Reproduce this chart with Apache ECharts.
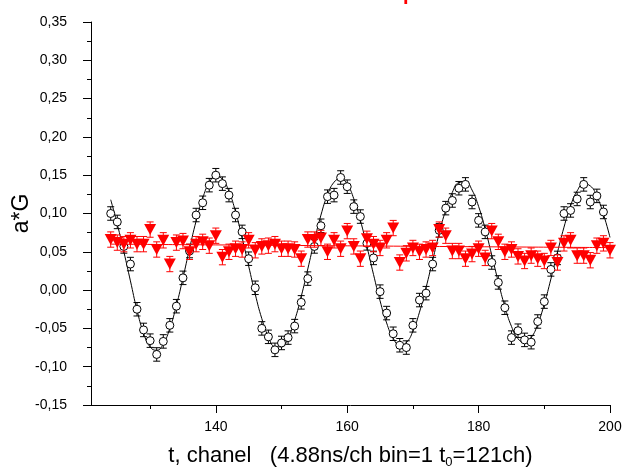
<!DOCTYPE html>
<html>
<head>
<meta charset="utf-8">
<script src="https://cdn.jsdelivr.net/npm/echarts@6/dist/echarts.min.js"></script>
<style>
html,body{margin:0;padding:0;background:#fff;}
#chart{width:624px;height:474px;}
</style>
</head>
<body>
<div id="chart"></div>
<script>
// ---- data ----
const blackChannels = [124,125,126,127,128,129,130,131,132,133,134,135,136,137,138,139,140,141,142,143,144,145,146,147,148,149,150,151,152,153,154,155,156,157,158,159,160,161,162,163,164,165,166,167,168,169,170,171,172,173,174,175,176,177,178,179,180,181,182,183,184,185,186,187,188,189,190,191,192,193,194,195,196,197,198,199];
const blackValues = [0.100,0.089,0.057,0.034,-0.025,-0.052,-0.066,-0.084,-0.067,-0.046,-0.021,0.016,0.051,0.098,0.114,0.137,0.150,0.139,0.124,0.098,0.076,0.041,0.003,-0.050,-0.061,-0.078,-0.069,-0.062,-0.047,-0.016,0.015,0.057,0.084,0.122,0.124,0.147,0.135,0.109,0.096,0.061,0.042,-0.002,-0.030,-0.057,-0.072,-0.075,-0.046,-0.013,-0.004,0.034,0.078,0.107,0.117,0.133,0.138,0.115,0.091,0.076,0.036,0.010,-0.023,-0.062,-0.053,-0.065,-0.068,-0.041,-0.015,0.027,0.042,0.100,0.104,0.119,0.138,0.115,0.123,0.102];
const blackError = 0.0088;

const redChannels = [124,125,126,127,128,129,130,131,132,133,134,135,136,137,138,139,140,141,142,143,144,145,146,147,148,149,150,151,152,153,154,155,156,157,158,159,160,161,162,163,164,165,166,167,168,169,170,171,172,173,174,175,176,177,178,179,180,181,182,183,184,185,186,187,188,189,190,191,192,193,194,195,196,197,198,199,200];
const redValues = [0.066,0.062,0.060,0.065,0.060,0.060,0.079,0.053,0.065,0.034,0.062,0.064,0.050,0.060,0.063,0.058,0.071,0.043,0.050,0.054,0.053,0.065,0.052,0.057,0.058,0.060,0.054,0.054,0.053,0.041,0.066,0.066,0.068,0.050,0.065,0.054,0.077,0.057,0.041,0.067,0.060,0.055,0.065,0.081,0.036,0.048,0.055,0.050,0.053,0.055,0.079,0.071,0.051,0.051,0.041,0.047,0.054,0.042,0.077,0.063,0.050,0.053,0.044,0.038,0.045,0.041,0.038,0.055,0.036,0.061,0.065,0.045,0.045,0.039,0.058,0.061,0.052];
const redError = 0.0100;

// fitted curves
const fitBlackChannels = [124,125,126,127,128,129,130,131,132,133,134,135,136,137,138,139,140,141,142,143,144,145,146,147,148,149,150,151,152,153,154,155,156,157,158,159,160,161,162,163,164,165,166,167,168,169,170,171,172,173,174,175,176,177,178,179,180,181,182,183,184,185,186,187,188,189,190,191,192,193,194,195,196,197,198,199,200];
const fitBlackValues = [0.1180,0.0860,0.0500,0.0120,-0.0260,-0.0560,-0.0742,-0.0786,-0.0702,-0.0498,-0.0200,0.0160,0.0541,0.0901,0.1199,0.1402,0.1488,0.1448,0.1287,0.1023,0.0686,0.0313,-0.0053,-0.0372,-0.0609,-0.0736,-0.0740,-0.0622,-0.0394,-0.0083,0.0276,0.0644,0.0979,0.1243,0.1409,0.1456,0.1381,0.1192,0.0911,0.0569,0.0205,-0.0140,-0.0429,-0.0628,-0.0717,-0.0685,-0.0536,-0.0288,0.0032,0.0387,0.0738,0.1047,0.1276,0.1403,0.1413,0.1306,0.1092,0.0799,0.0457,0.0105,-0.0217,-0.0473,-0.0635,-0.0686,-0.0620,-0.0445,-0.0180,0.0144,0.0491,0.0822,0.1101,0.1295,0.1385,0.1360,0.1223,0.0991,0.0688];
const fitRedChannels = [124,140,160,180,200];
const fitRedValues = [0.0600,0.0590,0.0578,0.0566,0.0555];

const xMajorTicks = [140,160,180,200];
const xMinorTicks = [130,150,170,190];

// ---- build ----
const zip = (a, b) => a.map((x, i) => [x, b[i]]);
const font = 'Liberation Sans, Arial, sans-serif';

function errorBars(color, err) {
  return function (params, api) {
    const x = api.value(0), y = api.value(1);
    const top = api.coord([x, y + err]);
    const bot = api.coord([x, y - err]);
    const hw = 3.5;
    const st = { stroke: color, lineWidth: 1 };
    return {
      type: 'group',
      children: [
        { type: 'line', shape: { x1: top[0], y1: top[1], x2: bot[0], y2: bot[1] }, style: st },
        { type: 'line', shape: { x1: top[0] - hw, y1: top[1], x2: top[0] + hw, y2: top[1] }, style: st },
        { type: 'line', shape: { x1: bot[0] - hw, y1: bot[1], x2: bot[0] + hw, y2: bot[1] }, style: st }
      ]
    };
  };
}

const chart = echarts.init(document.getElementById('chart'), null, { renderer: 'canvas' });
chart.setOption({
  backgroundColor: '#fff',
  animation: false,
  textStyle: { fontFamily: font },
  grid: { left: 91, right: 14, top: 22, bottom: 69, containLabel: false, outerBoundsMode: 'none' },
  graphic: [{
    type: 'text', left: 403, top: -16, silent: true,
    style: { text: 'p', fill: '#ff0000', font: 'bold 20px ' + font }
  }],
  xAxis: [{
    type: 'value', min: 121, max: 200, position: 'bottom',
    name: 't, chanel   (4.88ns/ch bin=1 t{sub|0}=121ch)',
    nameLocation: 'middle', nameGap: 37, nameMoveOverlap: false,
    nameTextStyle: {
      fontSize: 22, color: '#000', fontFamily: font,
      rich: { sub: { fontSize: 13, verticalAlign: 'bottom', padding: [14, 0, 0, 0], color: '#000', fontFamily: font } }
    },
    axisLine: { show: true, onZero: false, lineStyle: { color: '#000', width: 1 } },
    axisTick: { show: true, length: 8, customValues: xMajorTicks, lineStyle: { color: '#000' } },
    axisLabel: { customValues: xMajorTicks, color: '#000', fontSize: 14, margin: 15, fontFamily: font },
    splitLine: { show: false }
  }, {
    type: 'value', min: 121, max: 200, position: 'bottom',
    axisLine: { show: false, onZero: false },
    axisTick: { show: true, length: 4, customValues: xMinorTicks, lineStyle: { color: '#000' } },
    axisLabel: { show: false },
    splitLine: { show: false }
  }],
  yAxis: {
    type: 'value', min: -0.15, max: 0.35, interval: 0.05,
    name: 'a*G', nameLocation: 'middle', nameGap: 58, nameMoveOverlap: false,
    nameTextStyle: { fontSize: 23, color: '#000', fontFamily: font },
    axisLine: { show: true, onZero: false, lineStyle: { color: '#000', width: 1 } },
    axisTick: { show: true, length: 8, lineStyle: { color: '#000' } },
    minorTick: { show: true, splitNumber: 2, length: 4, lineStyle: { color: '#000' } },
    axisLabel: {
      color: '#000', fontSize: 14, margin: 24, fontFamily: font,
      formatter: v => (Math.abs(v) < 1e-9 ? 0 : v).toFixed(2).replace('.', ',')
    },
    splitLine: { show: false }
  },
  series: [
    {
      type: 'line', data: zip(fitBlackChannels, fitBlackValues), smooth: true,
      showSymbol: false, symbol: 'none', lineStyle: { color: '#000', width: 1 }, z: 2
    },
    {
      type: 'custom', data: zip(blackChannels, blackValues),
      renderItem: errorBars('#000', blackError), z: 3
    },
    {
      type: 'scatter', data: zip(blackChannels, blackValues), symbol: 'circle', symbolSize: 8,
      itemStyle: { color: '#fff', borderColor: '#000', borderWidth: 1, opacity: 1 }, z: 4
    },
    {
      type: 'line', data: zip(fitRedChannels, fitRedValues), smooth: true,
      showSymbol: false, symbol: 'none', lineStyle: { color: '#ff0000', width: 1 }, z: 5
    },
    {
      type: 'custom', data: zip(redChannels, redValues),
      renderItem: errorBars('#ff0000', redError), z: 6
    },
    {
      type: 'scatter', data: zip(redChannels, redValues), symbol: 'triangle', symbolRotate: 180,
      symbolSize: [12, 11], itemStyle: { color: '#ff0000', opacity: 1 }, z: 7
    }
  ]
});
</script>
</body>
</html>
